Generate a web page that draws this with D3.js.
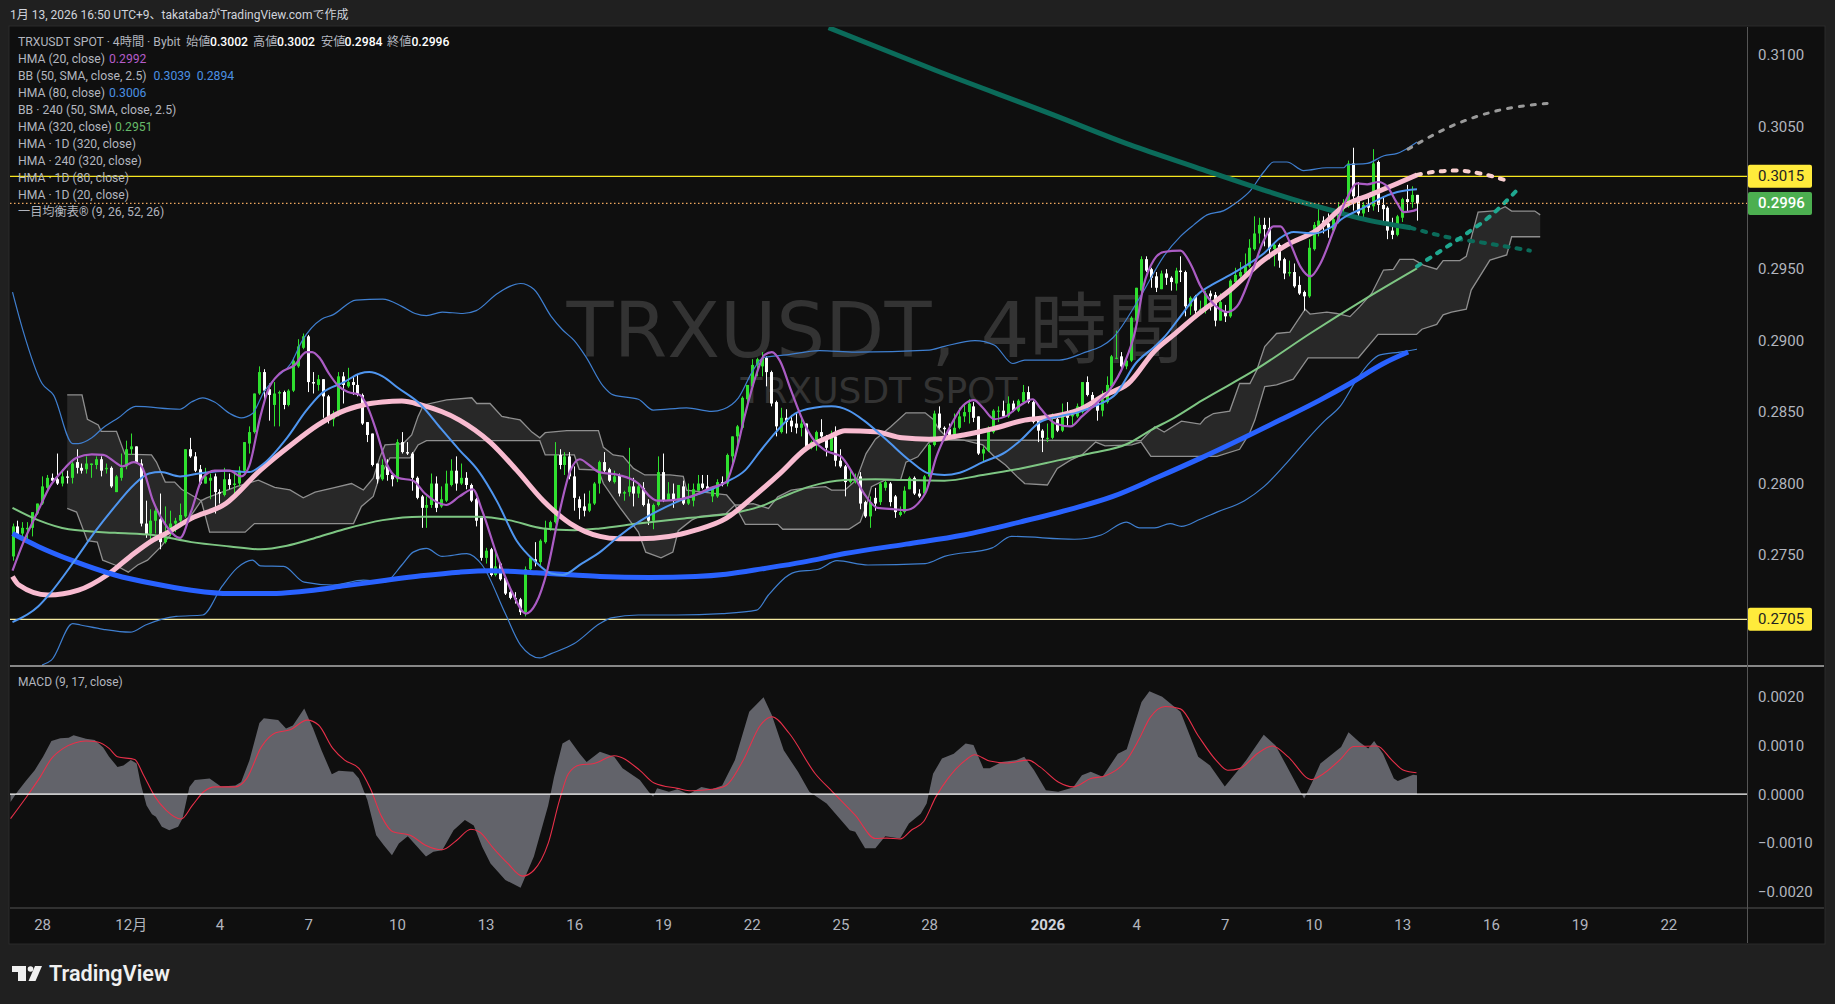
<!DOCTYPE html>
<html lang="ja"><head><meta charset="utf-8">
<style>
html,body{margin:0;padding:0;background:#202020;overflow:hidden}
svg{display:block}
text{font-family:Roboto,"Noto Sans CJK JP",sans-serif}
</style>
<script src="https://cdn.jsdelivr.net/npm/d3@7/dist/d3.min.js"></script>
</head><body>
<svg id="c" width="1835" height="1004"></svg>
<script>
// all prices below are in units of 0.0001; [open, high, low, close] per 4-hour bar
const candles=[
[2749,2772,2746,2770],[2770,2774,2763,2764],[2765,2773,2762,2769],[2768,2773,2760,2769],[2769,2780,2763,2780],[2779,2786,2778,2786],
[2786,2805,2785,2798],[2797,2806,2794,2804],[2804,2807,2800,2802],[2803,2821,2799,2800],[2800,2810,2798,2805],[2805,2809,2800,2804],
[2804,2815,2800,2814],[2815,2824,2807,2811],[2811,2814,2807,2809],[2810,2819,2807,2814],[2813,2814,2804,2814],[2813,2819,2810,2817],
[2817,2819,2805,2809],[2810,2814,2807,2811],[2811,2812,2797,2798],[2794,2806,2794,2805],[2804,2821,2802,2811],[2812,2830,2810,2824],
[2824,2835,2820,2826],[2826,2826,2814,2815],[2814,2817,2770,2772],[2772,2788,2762,2764],[2765,2782,2758,2774],[2774,2785,2765,2781],
[2775,2793,2754,2759],[2759,2784,2758,2763],[2769,2781,2763,2772],[2772,2776,2766,2774],[2774,2786,2770,2778],[2777,2824,2776,2824],
[2824,2832,2818,2819],[2819,2822,2808,2809],[2810,2813,2799,2800],[2800,2811,2800,2805],[2802,2807,2789,2804],[2805,2807,2779,2794],
[2794,2796,2786,2793],[2792,2811,2791,2803],[2803,2807,2796,2799],[2799,2807,2793,2800],[2800,2812,2798,2809],[2809,2829,2807,2829],
[2828,2840,2821,2836],[2836,2863,2835,2863],[2863,2882,2862,2878],[2878,2880,2857,2865],[2866,2870,2844,2862],[2855,2871,2840,2863],
[2863,2865,2840,2864],[2864,2865,2852,2855],[2855,2866,2854,2865],[2865,2888,2864,2886],[2882,2901,2881,2896],[2895,2905,2894,2903],
[2903,2904,2864,2871],[2871,2878,2863,2870],[2869,2876,2865,2873],[2873,2873,2846,2861],[2861,2862,2842,2846],[2845,2851,2840,2849],
[2848,2878,2847,2875],[2875,2878,2856,2869],[2868,2881,2867,2871],[2871,2875,2862,2869],[2869,2876,2861,2862],[2862,2863,2841,2842],
[2843,2843,2829,2834],[2835,2835,2812,2813],[2814,2814,2800,2803],[2803,2817,2802,2813],[2812,2817,2802,2806],[2806,2807,2798,2803],
[2803,2831,2801,2829],[2829,2836,2821,2822],[2822,2829,2820,2821],[2821,2822,2795,2804],[2804,2805,2789,2790],[2791,2792,2769,2783],
[2783,2791,2769,2785],[2785,2807,2783,2800],[2800,2805,2780,2783],[2784,2798,2783,2789],[2788,2809,2787,2800],[2799,2817,2798,2809],
[2809,2819,2795,2800],[2800,2814,2799,2804],[2804,2808,2796,2799],[2799,2800,2787,2788],[2789,2790,2770,2774],[2776,2776,2746,2748],
[2748,2755,2744,2753],[2754,2755,2735,2736],[2736,2752,2735,2742],[2744,2745,2732,2733],[2734,2735,2722,2723],[2724,2725,2719,2720],
[2720,2724,2716,2719],[2719,2720,2708,2710],[2710,2742,2707,2740],[2740,2748,2737,2748],[2747,2759,2742,2745],[2745,2761,2742,2760],
[2759,2774,2758,2769],[2769,2774,2767,2773],[2773,2829,2772,2820],[2820,2824,2810,2813],[2813,2822,2806,2819],[2819,2822,2803,2805],
[2805,2812,2781,2790],[2789,2791,2775,2783],[2784,2793,2777,2781],[2781,2795,2780,2786],[2786,2801,2785,2800],[2800,2816,2793,2815],
[2815,2822,2808,2809],[2810,2811,2801,2802],[2801,2809,2800,2805],[2806,2807,2791,2793],[2793,2795,2788,2794],[2794,2825,2791,2798],
[2798,2804,2784,2793],[2793,2799,2790,2798],[2797,2801,2784,2785],[2786,2789,2771,2774],[2774,2786,2768,2785],[2785,2819,2784,2808],
[2808,2821,2787,2788],[2788,2801,2788,2793],[2793,2800,2783,2788],[2788,2799,2787,2799],[2798,2802,2785,2786],[2786,2800,2785,2789],
[2788,2800,2784,2796],[2795,2806,2795,2800],[2800,2806,2796,2797],[2798,2806,2795,2796],[2791,2798,2787,2797],[2791,2803,2790,2801],
[2801,2805,2798,2799],[2800,2821,2798,2820],[2819,2833,2814,2833],[2833,2841,2826,2840],[2839,2861,2838,2860],[2859,2869,2856,2869],
[2868,2887,2868,2883],[2883,2888,2875,2887],[2882,2892,2875,2888],[2888,2889,2868,2878],[2878,2879,2854,2856],[2857,2858,2833,2840],
[2836,2853,2835,2846],[2846,2852,2835,2843],[2844,2848,2836,2840],[2842,2849,2835,2839],[2839,2846,2833,2842],[2842,2842,2825,2826],
[2825,2830,2824,2829],[2827,2837,2823,2836],[2836,2845,2832,2833],[2833,2834,2819,2825],[2823,2837,2823,2833],[2833,2840,2812,2816],
[2816,2824,2811,2812],[2812,2813,2791,2801],[2801,2809,2800,2803],[2801,2807,2800,2804],[2805,2808,2782,2786],[2787,2788,2776,2777],
[2777,2791,2769,2787],[2790,2797,2781,2786],[2787,2801,2785,2800],[2797,2802,2795,2801],[2800,2801,2784,2787],[2791,2792,2776,2780],
[2778,2784,2777,2780],[2780,2798,2779,2795],[2796,2805,2796,2804],[2804,2805,2792,2793],[2793,2796,2790,2791],[2793,2806,2792,2805],
[2805,2828,2804,2827],[2827,2851,2826,2849],[2849,2854,2838,2839],[2839,2840,2834,2838],[2838,2842,2833,2834],[2834,2849,2833,2839],
[2839,2853,2838,2847],[2847,2856,2843,2850],[2850,2859,2842,2856],[2854,2857,2843,2846],[2847,2847,2820,2821],[2821,2826,2815,2824],
[2823,2840,2822,2839],[2836,2852,2835,2851],[2851,2854,2843,2851],[2851,2858,2846,2847],[2847,2861,2846,2856],[2856,2858,2850,2851],
[2851,2859,2850,2858],[2857,2869,2857,2864],[2864,2868,2856,2857],[2857,2858,2842,2843],[2844,2845,2829,2837],[2837,2838,2822,2832],
[2832,2842,2829,2832],[2832,2849,2831,2843],[2845,2846,2836,2837],[2837,2856,2836,2849],[2849,2857,2840,2846],[2847,2851,2841,2848],
[2847,2856,2846,2854],[2850,2871,2849,2871],[2871,2875,2861,2862],[2862,2864,2857,2858],[2858,2859,2844,2851],[2851,2865,2847,2859],
[2857,2875,2856,2869],[2868,2890,2868,2889],[2888,2907,2887,2888],[2889,2892,2881,2882],[2882,2887,2880,2886],[2886,2917,2885,2916],
[2914,2937,2913,2937],[2935,2959,2934,2957],[2957,2959,2948,2949],[2950,2951,2937,2944],[2945,2948,2934,2937],[2936,2949,2936,2947],
[2947,2950,2939,2944],[2944,2945,2935,2941],[2940,2951,2935,2949],[2949,2959,2941,2948],[2948,2949,2917,2924],[2924,2931,2918,2930],
[2931,2932,2917,2921],[2921,2928,2919,2922],[2921,2935,2919,2933],[2933,2935,2921,2931],[2932,2934,2910,2914],[2914,2933,2914,2927],
[2920,2925,2913,2917],[2917,2943,2916,2942],[2941,2951,2940,2946],[2945,2955,2944,2948],[2947,2961,2946,2952],[2952,2971,2951,2965],
[2964,2987,2963,2975],[2975,2986,2968,2981],[2981,2986,2966,2978],[2979,2986,2957,2964],[2964,2969,2952,2967],[2967,2968,2951,2956],
[2957,2958,2943,2947],[2947,2956,2945,2948],[2948,2954,2937,2938],[2939,2945,2932,2933],[2934,2935,2921,2931],[2931,2971,2930,2965],
[2964,2983,2963,2981],[2980,2996,2973,2984],[2984,2987,2975,2980],[2982,2989,2972,2979],[2977,2991,2976,2985],[2984,2997,2982,2993],
[2992,2999,2988,2995],[2994,3026,2993,3024],[3024,3035,2991,3001],[3001,3011,2987,2989],[2989,2997,2985,2995],[2995,3001,2990,2993],
[2994,3034,2991,3024],[3025,3026,2990,2995],[2995,3001,2982,2992],[2993,2994,2971,2977],[2977,2986,2971,2974],[2974,2988,2973,2987],
[2986,3000,2983,2999],[2999,3009,2990,2997],[2997,3008,2993,3002],[3002,3002,2984,2996]];

// indicator readings: [bar number, value]
const hma20=[[0,2739],[2.1,2758],[5.2,2781],[7.6,2798],[9.9,2808],[13,2818],[16.1,2820.4],[18.4,2820],[20.8,2815],[22.3,2812],[24.6,2815],[26.2,2812],[28.5,2788],[30.9,2772],[34,2762],[36.3,2781],[38.6,2804],[41,2809],[44.1,2809],[46.4,2805],[48,2812],[50.3,2847],[51.8,2865],[54.2,2877],[57.3,2883],[59.6,2892],[60.8,2892],[62.3,2888],[64.2,2877],[66.2,2868],[68.1,2864],[70.5,2862],[72,2854],[74,2835],[75.9,2814],[78.2,2804],[81.3,2802],[83.7,2793],[88,2785],[90.7,2791],[93.4,2796],[95.3,2781],[98.4,2749],[101.5,2723],[104.2,2709],[106.2,2716],[108.5,2739],[110.8,2777],[113.2,2809],[115.1,2817],[117,2813],[119,2808],[123,2806],[127,2800],[129.3,2791],[130.8,2788],[134,2788.4],[137.8,2791],[141.7,2797],[144.8,2801],[146.4,2816],[148.7,2849],[151,2877],[152.6,2890],[154.1,2892],[155.7,2886],[158,2865],[160.4,2844],[162.7,2830],[165,2823],[168.1,2819],[170.5,2807],[172.8,2793],[175.5,2783],[179,2782],[181.3,2781.4],[185.2,2793],[187.5,2819],[190.6,2842],[193,2855],[195.1,2858.4],[196.9,2853],[199.2,2845],[201.5,2847],[204.6,2855],[207,2859],[208.5,2853],[211.6,2842],[214.7,2840],[217,2847],[220.2,2857],[222.5,2865],[225.6,2884],[227.9,2908],[229.5,2938],[231.6,2956.4],[233.6,2962],[237,2963],[239,2954],[241.1,2938],[243.9,2925],[246.5,2920],[248.5,2924],[251.2,2945],[253.9,2970],[255.9,2980],[257.3,2980],[259.3,2968],[261.3,2952],[263.4,2945],[265.4,2954],[268.1,2977],[270.8,2999.6],[272.8,3010],[274.9,3009.4],[277.2,3011],[278.9,3008],[281,2996],[282.3,2990],[284.4,2991],[285,2992]];
const hma80=[[0,2703],[5.2,2714],[7.6,2723],[12.6,2746],[16.9,2767],[20.8,2784],[24.6,2799],[27.7,2807],[30.1,2808],[34,2805],[37.8,2807],[43.3,2809],[48,2808],[51,2814],[55.7,2832],[59.6,2851],[62.7,2863],[67.3,2871],[70.5,2877],[72.4,2878],[75.1,2875],[78.2,2867],[82.9,2855],[86.8,2839],[90.7,2823.4],[94.5,2809],[98.4,2787],[102.3,2760],[106.2,2745],[109.3,2737],[111.6,2736],[115.5,2744],[119.2,2752],[123,2763],[127,2773],[134.7,2787],[142.5,2797],[144.8,2801],[148.7,2809.4],[151.8,2823],[154.9,2836],[158.8,2849],[162.7,2853],[166.2,2854],[169.7,2851],[172.8,2844],[177.4,2830.4],[182.1,2816],[186,2807],[189.1,2806],[192.2,2807.6],[196.9,2815],[201.5,2822],[204.6,2830.4],[208.5,2843],[212.4,2847],[216.3,2850],[220.2,2855],[224,2863],[227.9,2884],[231.8,2896],[233.6,2902],[237,2917],[240.4,2932],[243.9,2940],[247.1,2946],[250.5,2953],[253.9,2961],[257.3,2972],[260,2976],[264.1,2975],[267.4,2979],[270.1,2986],[274.2,2993],[277.6,2999.6],[281,3004],[285,3006]];
const bbUpper=[[0,2934],[2.1,2907.4],[6,2870],[8.3,2862],[12.2,2828],[13.4,2828],[16.1,2832],[18.4,2839],[21.5,2846],[25,2854],[34,2852],[36.3,2857],[38.6,2860],[41,2857],[44.1,2849],[46.4,2846],[48.7,2849],[51,2864],[53.4,2874],[56.5,2884],[58.8,2900],[62.7,2915],[65,2918],[69.7,2928.4],[75.1,2929],[79,2924],[81.7,2919],[84,2917.5],[87.2,2920],[91.4,2919],[94.1,2921],[98.4,2933],[103.1,2940],[105.8,2936],[109.3,2917],[111.6,2907.6],[114,2900],[116.3,2889],[119.9,2868],[121.9,2862],[127,2859],[130,2851.4],[136.8,2853],[141.9,2850.5],[144.2,2852],[147.3,2860],[150.3,2879.4],[152.3,2888],[157.1,2890],[163.8,2893],[171,2892],[186,2893.4],[189.1,2896],[195.3,2900],[199.2,2897],[203,2884],[205.4,2886.4],[212.4,2886.4],[217,2891],[223.3,2902],[228.9,2931],[233.6,2959],[237,2973],[239.7,2981],[242.4,2988],[245.8,2991],[248.5,2997],[251.2,3005],[253.9,3018],[255.9,3025],[258.6,3025],[262,3019],[266.7,3021],[270.1,3021],[270.8,3023],[274.9,3024],[278.3,3029.4],[281,3031],[283.7,3036],[285,3039]];
const bbLower=[[6,2673],[7.9,2676.4],[12.2,2702],[13.8,2701],[18.4,2698],[23.9,2696],[27,2701],[33.2,2707],[38.6,2708],[42.5,2728],[45.6,2741],[48.7,2746.4],[50.3,2742.4],[55,2742],[59.2,2731],[65,2729],[71.2,2732.4],[75.5,2731],[79,2743],[81.3,2752],[84,2754.6],[87.2,2749],[92.2,2751],[95.3,2743],[100,2709],[103.1,2687],[107,2678],[109.3,2681],[114,2688],[119.2,2702],[121.5,2706],[127,2708],[134.7,2708],[144,2709],[151,2711.4],[153.4,2722],[158.8,2738],[163.5,2740],[167.3,2746],[173.6,2743],[185.2,2744],[189.1,2749],[198.8,2755],[202.7,2763],[215.5,2761],[220.9,2764],[226,2773],[228.7,2769],[231.8,2769],[234.9,2772],[237.2,2770],[241,2775],[244.4,2780],[250,2788],[254,2798],[258.7,2815],[263,2832],[266.3,2844],[269.4,2854],[272.7,2872.4],[275.5,2885],[277.5,2890],[281.5,2892],[285,2894]];
const hma320=[[0,2783],[5.2,2774.4],[11.4,2768],[20.8,2765.5],[28.5,2764],[36.3,2759],[44.1,2756],[50.3,2754],[55.7,2756.5],[61.1,2761.6],[67.3,2768],[75.1,2774.4],[82.9,2776.8],[94.5,2776.8],[100.7,2774.4],[107.7,2768.6],[114,2767.4],[119.2,2768.6],[127,2772],[136.3,2775.6],[145.6,2779],[151.8,2784],[156.5,2791],[161.9,2798],[168.9,2802.4],[175.1,2803],[181.3,2802.4],[189.1,2802],[196.9,2806],[204.6,2810.6],[212.4,2816.4],[218.6,2821],[226.4,2828],[231,2837.4],[235.7,2846],[241.3,2858],[252.4,2880],[263.3,2905],[274.1,2928.4],[285,2950.6]];
const hma240=[[0,2735],[1.3,2729],[7.2,2722],[13.4,2725.4],[19.2,2736],[23.9,2749],[28.5,2760.4],[31.6,2766],[36.3,2775.6],[43.3,2786],[50.3,2809.4],[56.5,2827],[62,2841],[66.6,2850],[71.2,2855],[75.1,2857],[79,2857.7],[82.9,2855],[90.7,2844.4],[96.9,2829],[102.3,2809.4],[107.7,2788],[113.2,2772],[119.2,2763],[123,2761.4],[127,2761.4],[133.2,2763],[138.6,2767.4],[144.8,2775.6],[150.3,2790.7],[155.7,2807],[161.1,2824.6],[165.8,2832.7],[168.9,2837],[175.1,2836.3],[180.5,2832],[186,2831],[193,2834],[199.2,2838.6],[205.4,2844.4],[210.8,2846.7],[216.3,2851.4],[221.7,2862],[226.4,2870],[231.8,2893],[235.6,2904],[240.4,2918],[247.1,2935.4],[253.9,2956.4],[258.6,2967],[264.7,2977.4],[270.1,2994],[275.5,3002],[281,3010],[285,3016]];
const hma240Future=[[285,3016],[288.3,3018],[293,3019],[297.8,3017],[303.2,3012]];
const hma1d320=[[0,2765],[5.2,2756],[12.2,2746],[20.8,2736],[28.5,2730],[36.3,2725.4],[44.1,2723],[51.8,2723],[61.1,2725.4],[67.3,2728.4],[75.1,2732],[82.9,2735.4],[90.7,2738],[96.9,2739],[106.2,2737.5],[114,2736],[119.2,2735],[129.3,2734.3],[138.6,2735],[144.8,2736.6],[152.6,2740.6],[160.4,2745],[168.9,2751],[181.3,2757.6],[193,2764],[204.6,2773.2],[214,2781.4],[223.3,2791],[232.6,2804.7],[241,2817.6],[257.2,2844.4],[265.3,2858.4],[271.4,2870],[278.2,2884],[283.2,2892]];
const hma1d80=[[165.6,3119],[187.4,3089],[211.2,3058],[226.8,3037],[240,3021.5],[253.9,3005.4],[260.7,2998],[267.4,2991.4],[274.2,2985],[283.7,2979]];
const hma1d80Future=[[283.7,2979],[291.8,2972],[298.5,2968.5],[307.9,2963]];
const hma320Future=[[285,2952],[289,2961],[295.1,2975],[299.8,2987],[305.2,3005]];
const hma1d20Future=[[283.2,3034],[291.9,3050],[301.4,3061],[311.4,3066]];
const cloudTop=[[11.1,2862],[14.1,2862],[15.2,2845],[17.4,2841],[18,2836.5],[21.1,2836.5],[22.8,2820.6],[28.2,2820],[29.2,2815],[31,2801],[32.9,2801],[34.3,2796],[38.3,2788],[39.4,2790],[45.6,2798],[49.9,2802.4],[53.2,2797.3],[56.3,2795.5],[59,2790],[61.4,2794],[65.1,2797],[68.8,2800],[71.2,2795.5],[73.2,2803.7],[74.6,2819],[75.6,2827],[79.3,2828],[81,2834],[82.3,2847],[83.4,2855],[88.1,2858.5],[93.2,2860],[94.2,2856],[96.9,2856],[99.3,2847],[103,2844.5],[105.4,2836],[107,2832],[108.1,2835.6],[112.5,2837],[118.9,2837],[119.9,2825.3],[121.9,2820],[123.9,2819],[126,2810.6],[128.3,2806],[133.4,2806],[136.1,2805],[136.8,2795.4],[144.9,2792],[146.6,2785],[147.5,2785],[150.3,2786],[153.4,2782.6],[155.3,2790.7],[158,2795.4],[160.4,2796.6],[165,2797.8],[166.2,2795.4],[168.9,2795.4],[171.2,2802.4],[173.2,2821],[175.1,2831],[178.2,2839.7],[181.3,2849.5],[185.2,2849.5],[186.8,2845],[188,2838],[190,2831],[193,2830.4],[229,2830],[231.8,2839.7],[233.7,2836],[237.2,2843.7],[241,2841.6],[242,2845.6],[243.7,2849],[247,2850.7],[249,2870],[251.1,2870],[252.5,2879.4],[254.1,2895.8],[256.5,2905],[259.2,2906],[262.3,2922],[263.3,2918.6],[266.7,2920],[268.7,2919],[271.4,2916.8],[273.4,2923.8],[275.8,2933],[278.2,2949.4],[280.2,2949.9],[281.5,2956.9],[284.3,2956.9],[286.3,2952.9],[289,2950],[290.3,2956],[293.7,2956],[295,2959],[297.4,2990],[301.2,2991],[302.9,2993.7],[304.2,2990.7],[308.9,2990.7],[310,2988]];
const cloudBottom=[[11.1,2782.6],[13,2780],[15.2,2760],[17.2,2759],[18.3,2746.4],[20.8,2743],[23.5,2738],[25.4,2743],[27.4,2746.4],[30.1,2755.7],[32.8,2767.4],[36.3,2778],[38.3,2788],[40,2766],[47.2,2766],[49.1,2772],[69.2,2772],[70.8,2784],[73.2,2791],[74.3,2803],[76.6,2818],[80.7,2818],[82.3,2827],[84,2830],[107,2830],[108.1,2820],[114,2820],[115,2810],[118.9,2809.4],[119.9,2800],[123.3,2783],[127,2766],[128.5,2752],[131.6,2748],[134,2752],[135.1,2767],[137.8,2774.4],[139.4,2777],[144.8,2779],[146.6,2785],[147.5,2779],[148.7,2771.4],[155.3,2771.4],[156.3,2768],[169.7,2768],[172,2773],[173.2,2783.8],[174.3,2797.8],[177,2802.4],[180.2,2802.4],[181.3,2815],[183.7,2818.7],[186,2829],[190,2830.4],[193,2830.4],[196.9,2827],[199.2,2819],[201.5,2813],[203.8,2805],[205.4,2800],[210,2799],[212,2810.6],[214.7,2816.4],[217,2820],[219.8,2829],[221.7,2826.4],[227.1,2827],[229,2829],[231,2819],[241,2819],[244.4,2819],[249,2824],[251,2835],[252.1,2844.4],[254.1,2867.8],[256.5,2869],[259.9,2873],[262.9,2888],[273.1,2888],[277.1,2904.4],[284.9,2904.4],[286,2908],[289,2911.4],[290.3,2918],[292,2920],[295,2922],[296,2935.4],[299.8,2956.4],[303.2,2960],[304.2,2972.7],[310,2972.7]];
// MACD readings in units of 0.0001
const macd=[[-0.4,-1.6],[1,0.5],[2.7,2.7],[4.5,4.9],[6.2,7.7],[7.9,10.9],[9.7,11.5],[11.4,11.6],[12.4,12.1],[14.9,11.4],[16.7,11.1],[18.4,9.6],[19.6,7.7],[21.3,5.6],[22.5,5.9],[24,7],[25.2,6.3],[26,2.2],[27.2,-2.3],[28.3,-4.1],[29.1,-4.6],[30.3,-6.7],[31.8,-7.4],[33.6,-6.7],[34.5,-5],[35.9,1.5],[37,2.9],[40,3.2],[42.3,1.6],[45.2,1.8],[46.4,2.5],[48.1,7],[50.1,14.6],[51,15.6],[53.9,15.2],[55.5,13.5],[56.9,14.1],[59.2,17.6],[61,13.5],[62.7,9],[64.8,4.1],[66.2,4.8],[69.1,4.6],[70.3,3.2],[72,-1.2],[73.8,-8.4],[75.3,-10.4],[77,-12.5],[78.4,-10.1],[80.2,-8.6],[81.9,-10.5],[83.9,-12.8],[85.4,-11.8],[87.2,-11.5],[89.5,-7.4],[91.8,-5.3],[93.6,-6.4],[95.3,-10.8],[97,-14.2],[100,-17.6],[103.1,-19.2],[105.8,-12.8],[108.7,-2.3],[109.9,3.6],[111.6,10.4],[113,11.2],[115.1,8.3],[116.5,6.6],[119.2,8.7],[122.1,7.7],[123.8,5.3],[127.3,2.9],[129.1,0.5],[130,-0.5],[130.8,1.2],[133.2,0.5],[134.9,1],[137.2,0],[139.8,1.5],[141.9,1],[144,1.8],[146.6,7],[149.5,16.9],[152.4,19.9],[154.1,16.2],[156.5,9],[159.4,4.6],[161.7,0.5],[165.2,-1.9],[168.1,-5.3],[169.9,-7.4],[171,-7.7],[173,-11.1],[175.1,-11.1],[177.1,-8.6],[180.1,-9.1],[181.9,-6],[184.3,-4],[185.5,-1.9],[186.8,4.2],[188.6,7.3],[191,8.3],[193.4,10.4],[195,10.1],[197,5.3],[198.3,5.3],[200.7,6.6],[203.7,7],[205.3,7.7],[207.3,4.9],[209.7,0.8],[212.2,0.5],[215.2,1.4],[217,3.9],[218.8,4.6],[221.2,3.6],[224.3,8.3],[226.1,9.2],[229.1,18.9],[230.7,21.1],[233.3,20],[237,16.9],[240.6,7.7],[243,5.9],[246,1.6],[250.3,6.9],[253.9,12.2],[256.3,10],[259.4,4.2],[262.1,-0.9],[263.6,2.2],[265.4,6.3],[269.6,9.7],[271.1,12.7],[273.3,10.7],[275.1,9.4],[276.3,10.9],[278.1,8.3],[280.3,3.2],[281.1,2.7],[284.2,4],[285,3.9]];
const signal=[[-0.4,-5],[3.3,0.1],[5.6,3.5],[7.9,7.3],[10.3,9.4],[12.6,10.5],[14.9,10.9],[17.3,10.7],[19.6,9.4],[21.3,7.7],[24.8,7.1],[26.6,3.9],[28.9,-0.5],[31.2,-3.3],[34.2,-5.1],[36.5,-2.3],[38.8,0.5],[41.1,1.5],[45.2,1.5],[47.5,3.2],[50.5,9.7],[53.4,12.6],[56.3,13.2],[59.8,15.2],[62.1,14.2],[65,9.4],[67.4,7],[70.3,5.3],[72.6,1.2],[74.9,-4.6],[77.2,-7.7],[80.7,-8.4],[83.7,-10.4],[87.2,-11.4],[90.1,-9.5],[93,-7.2],[94.7,-7.7],[97.6,-11.1],[100.5,-14.2],[103.5,-16.8],[105.8,-15.6],[108.7,-10.1],[111,-1.2],[112.8,4.2],[115.1,6],[118,6.3],[122.1,7.9],[127.3,4.9],[130.2,2.3],[134.9,1.2],[137.8,0.7],[141.9,1],[144.8,1.8],[148.3,7],[151.8,14.2],[154.1,15.9],[157.6,12.5],[162.9,4.2],[166.4,0.5],[171,-4.3],[175.1,-9.1],[177.4,-9],[180.1,-9.2],[182.5,-7.3],[184.9,-5.6],[187.4,-0.5],[189.8,3.2],[193.4,7],[195.2,8.1],[198.3,6.8],[201.9,6.4],[206.1,7],[208.5,5.6],[212.2,2.5],[215.2,1.5],[218.8,3.2],[221.8,3.8],[226.1,7],[228.5,11.1],[230.9,15.8],[233.9,18],[237,17.5],[240.6,12],[244.2,7],[246.6,4.9],[249.1,5.3],[252.7,8.4],[255.7,9.9],[258.8,7.7],[263.6,3],[266,4.2],[269.6,7.3],[272.1,9.8],[276.9,9.9],[279.9,7],[282.3,4.9],[284.9,4.4]];

const priceTicks=[0.31,0.305,0.295,0.29,0.285,0.28,0.275];
const macdTicks=[0.002,0.001,0,-0.001,-0.002];
const timeBars=[6,24,42,60,78,96,114,132,150,168,186,210,228,246,264,282,300,318,336];
const timeLabels=["28","12月","4","7","10","13","16","19","22","25","28","2026","4","7","10","13","16","19","22"];
const levelHigh=0.3015, levelLow=0.2705, lastPrice=0.2996;
const legendRows=[
 ["HMA (20, close)",[["0.2992","#b55cc9",109]]],
 ["BB (50, SMA, close, 2.5)",[["0.3039","#4a8fe3",153.5],["0.2894","#4a8fe3",196.7]]],
 ["HMA (80, close)",[["0.3006","#4a8fe3",109]]],
 ["BB · 240 (50, SMA, close, 2.5)",[]],
 ["HMA (320, close)",[["0.2951","#66bb6a",115]]],
 ["HMA · 1D (320, close)",[]],
 ["HMA · 240 (320, close)",[]],
 ["HMA · 1D (80, close)",[]],
 ["HMA · 1D (20, close)",[]],
 ["一目均衡表® (9, 26, 52, 26)",[]]];
const ohlcLabels=[["始値",186,"0.3002",210],["高値",253,"0.3002",277],["安値",321,"0.2984",344.5],["終値",387,"0.2996",411.4]];

const svg=d3.select("#c");
const L=10,R=1747,RR=1824,T=27,B=943,SEP=666,AX=908;
const x=d3.scaleLinear().domain([0,285]).range([12.5,1417]);
const y=d3.scaleLinear().domain([0.2705,0.3015]).range([619.3,176.3]);
const ym=d3.scaleLinear().domain([-0.002,0.002]).range([891.7,696.7]);
const pv=v=>v/1e4, mv=v=>v*1e-4;
const TXT="#b2b5be";

svg.append("rect").attr("x",L-1).attr("y",T-1).attr("width",RR-L+2).attr("height",B-T+2).attr("fill","#0f0f0f").attr("stroke","#2b2b2b");
const defs=svg.append("defs");
defs.append("clipPath").attr("id","cp").append("rect").attr("x",L).attr("y",T).attr("width",R-L).attr("height",SEP-T);
defs.append("clipPath").attr("id","cm").append("rect").attr("x",L).attr("y",SEP).attr("width",R-L).attr("height",AX-SEP);

// watermark
const wm=svg.append("g").attr("fill","#333333").attr("text-anchor","middle");
wm.append("text").attr("x",875).attr("y",357).attr("font-size",77).attr("style",'font-family:"DejaVu Sans","Noto Sans CJK JP",sans-serif').text("TRXUSDT, 4時間");
wm.append("text").attr("x",879).attr("y",403).attr("font-size",36).attr("style",'font-family:"DejaVu Sans","Noto Sans CJK JP",sans-serif').text("TRXUSDT SPOT");

// price pane
const pane=svg.append("g").attr("clip-path","url(#cp)");
const ln=(curve)=>d3.line().x(d=>x(d[0])).y(d=>y(pv(d[1]))).curve(curve||d3.curveMonotoneX);
const stroke=(data,color,w,dash,op)=>{
  const p=pane.append("path").datum(data).attr("fill","none").attr("stroke",color).attr("stroke-width",w)
    .attr("stroke-linejoin","round").attr("d",ln());
  if(dash)p.attr("stroke-dasharray",dash).attr("stroke-linecap","round");
  if(op)p.attr("stroke-opacity",op);
  return p;
};
// Ichimoku cloud
pane.append("path").attr("fill","#282828")
  .attr("d",ln(d3.curveLinear)(cloudTop.concat(cloudBottom.slice().reverse()))+"Z");
[cloudTop,cloudBottom].forEach(c=>pane.append("path").datum(c).attr("fill","none").attr("stroke","#8f8f8f").attr("stroke-width",1.3).attr("d",ln(d3.curveLinear)));

// horizontal levels
pane.append("line").attr("x1",L).attr("x2",R).attr("y1",y(levelLow)).attr("y2",y(levelLow)).attr("stroke","#f3e9a0").attr("stroke-width",1.2);
pane.append("line").attr("x1",L).attr("x2",R).attr("y1",y(levelHigh)).attr("y2",y(levelHigh)).attr("stroke","#f7e620").attr("stroke-width",1.3);

// candles
const cg=pane.append("g");
const up="#2fe02f",dn="#ffffff";
cg.selectAll("line").data(candles).join("line")
  .attr("x1",(d,i)=>Math.round(x(i))+.5).attr("x2",(d,i)=>Math.round(x(i))+.5)
  .attr("y1",d=>y(pv(d[1]))).attr("y2",d=>y(pv(d[2])))
  .attr("stroke",d=>d[3]>=d[0]?up:dn).attr("stroke-width",1);
cg.selectAll("rect").data(candles).join("rect")
  .attr("x",(d,i)=>Math.round(x(i))-1).attr("width",3)
  .attr("y",d=>y(pv(Math.max(d[0],d[3]))))
  .attr("height",d=>Math.max(1,Math.abs(y(pv(d[0]))-y(pv(d[3])))))
  .attr("fill",d=>d[3]>=d[0]?up:dn);

// indicators
stroke(bbUpper,"#3f7fd0",1.2);
stroke(bbLower,"#3f7fd0",1.2);
stroke(hma320,"#7ec683",2);
stroke(hma1d80,"#0b6b5a",5);
stroke(hma1d80Future,"#0b6b5a",4,"4 8");
stroke(hma240,"#f8bbd0",5);
stroke(hma240Future,"#f9cfd0",4,"4 8");
stroke(hma1d320,"#2962ff",5);
stroke(hma320Future,"#1fa890",4,"4 8");
stroke(hma1d20Future,"#9a9a9a",3,"4 8");
stroke(hma80,"#4f96f0",2);
stroke(hma20,"#ab5cc4",2.2);

pane.append("line").attr("x1",L).attr("x2",R).attr("y1",y(lastPrice)).attr("y2",y(lastPrice)).attr("stroke","#f0a860").attr("stroke-width",1.3).attr("stroke-dasharray","1.5 2.5");

// MACD pane
const mp=svg.append("g").attr("clip-path","url(#cm)");
mp.append("path").datum(macd).attr("fill","#62636a")
  .attr("d",d3.area().x(d=>x(d[0])).y0(ym(0)).y1(d=>ym(mv(d[1]))));
mp.append("path").datum(signal).attr("fill","none").attr("stroke","#e8304a").attr("stroke-width",1.1)
  .attr("d",d3.line().x(d=>x(d[0])).y(d=>ym(mv(d[1]))).curve(d3.curveMonotoneX));
svg.append("line").attr("x1",L).attr("x2",R).attr("y1",ym(0)).attr("y2",ym(0)).attr("stroke","#fff").attr("stroke-width",1.2);

// frame lines
svg.append("line").attr("x1",L).attr("x2",RR).attr("y1",SEP).attr("y2",SEP).attr("stroke","#fff").attr("stroke-width",1.2);
svg.append("line").attr("x1",L).attr("x2",RR).attr("y1",AX).attr("y2",AX).attr("stroke","#555");
svg.append("line").attr("x1",R+.5).attr("x2",R+.5).attr("y1",T).attr("y2",B).attr("stroke","#555");

// axes
const styleAxis=g=>{g.select(".domain").remove();g.selectAll(".tick line").remove();
  g.selectAll("text").attr("fill",TXT).attr("font-size",15).attr("font-family",'Roboto,"Noto Sans CJK JP",sans-serif');};
svg.append("g").attr("transform",`translate(${R},0)`)
  .call(d3.axisRight(y).tickValues(priceTicks).tickFormat(d3.format(".4f")).tickSize(0).tickPadding(11)).call(styleAxis);
svg.append("g").attr("transform",`translate(${R},0)`)
  .call(d3.axisRight(ym).tickValues(macdTicks).tickFormat(v=>(v<0?"−":"")+d3.format(".4f")(Math.abs(v))).tickSize(0).tickPadding(11)).call(styleAxis);
const tx=svg.append("g").attr("transform",`translate(0,${AX+11})`)
  .call(d3.axisBottom(x).tickValues(timeBars).tickFormat((d,i)=>timeLabels[i]).tickSize(0).tickPadding(0)).call(styleAxis);
tx.selectAll("text").filter((d,i)=>timeLabels[i]==="2026").attr("font-weight","bold").attr("fill","#d1d4dc");

// price tags
[[levelHigh,"#ffeb3b","#222"],[levelLow,"#ffeb3b","#222"],[lastPrice,"#4caf50","#fff"]].forEach(([v,bg,fg])=>{
  svg.append("rect").attr("x",R+1).attr("y",y(v)-11.5).attr("width",64).attr("height",23).attr("rx",2).attr("fill",bg);
  svg.append("text").attr("x",R+11).attr("y",y(v)+5).attr("font-size",15).attr("fill",fg).attr("font-weight",fg==="#fff"?"500":"400").text(d3.format(".4f")(v));
});

// header + legend
svg.append("text").attr("x",10).attr("y",19).attr("font-size",12).attr("fill","#d1d4dc").text("1月 13, 2026 16:50 UTC+9、takatabaがTradingView.comで作成");
const lg=svg.append("g").attr("font-size",12.2);
lg.append("text").attr("x",18).attr("y",46).attr("fill",TXT).text("TRXUSDT SPOT · 4時間 · Bybit");
ohlcLabels.forEach(([a,ax,b,bx])=>{
  lg.append("text").attr("x",ax).attr("y",46).attr("fill",TXT).text(a);
  lg.append("text").attr("x",bx).attr("y",46).attr("fill","#fff").attr("font-weight","500").text(b);
});
legendRows.forEach(([t,vals],i)=>{
  const yy=63+17*i;
  lg.append("text").attr("x",18).attr("y",yy).attr("fill",TXT).text(t);
  vals.forEach(([s,c,vx])=>lg.append("text").attr("x",vx).attr("y",yy).attr("fill",c).text(s));
});
svg.append("text").attr("x",18).attr("y",686).attr("font-size",12).attr("fill",TXT).text("MACD (9, 17, close)");

// TradingView mark
const logo=svg.append("g").attr("fill","#f0f0f0");
logo.append("path").attr("d","M12 966H26V981H18V972H12Z");
logo.append("circle").attr("cx",30.5).attr("cy",969).attr("r",2.8);
logo.append("path").attr("d","M35 966H42L35.5 981H28.5Z");
logo.append("text").attr("x",49).attr("y",981).attr("font-size",21.6).attr("font-weight","600").attr("fill","#f0f0f0").text("TradingView");
</script>
</body></html>
